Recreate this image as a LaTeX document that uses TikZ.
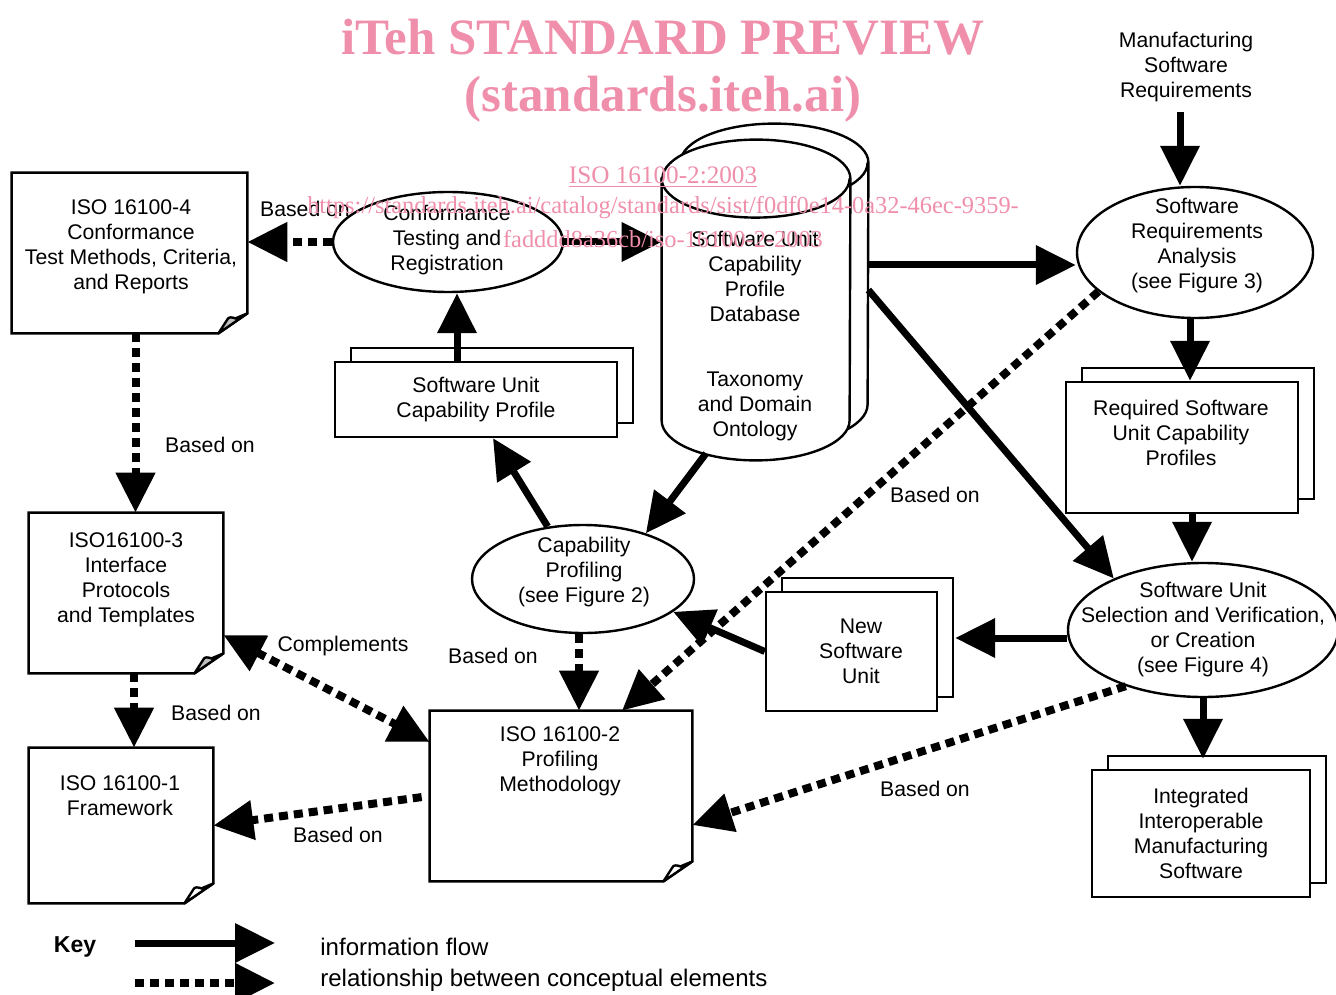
\documentclass[tikz,border=0pt]{standalone}
\usepackage{fontspec}
\setmainfont{Liberation Sans}
\newfontfamily\wmfont{Liberation Serif}
\usepackage{tikz}
\usetikzlibrary{shapes.geometric,shadows,arrows.meta}
\definecolor{wmpink}{RGB}{239,143,171}
\NewDocumentCommand{\docfold}{O{white} m}{%
	\path [draw, docline] (#2.north west) -- (#2.north east) -- ([yshift=10pt]#2.south east) -- ([xshift=-14.5pt]#2.south east) -- (#2.south west) -- cycle;
	\path [draw, docline, line join=round, fill=#1] ([xshift=-14.5pt]#2.south east) -- ([xshift=-10pt,yshift=7pt]#2.south east) to[out=70, in=160] ([xshift=-6pt,yshift=7.5pt]#2.south east) -- ([yshift=10pt]#2.south east) -- cycle;
}
\NewDocumentCommand{\dbdraw}{m}{%
	\path [draw, docline, fill=white] ([yshift=-19.5pt]#1.north west) -- ([yshift=20pt]#1.south west) arc[start angle=180, end angle=360, x radius=47pt, y radius=20pt] -- ([yshift=-19.5pt]#1.north east) arc[start angle=0, end angle=180, x radius=47pt, y radius=19.5pt] -- cycle;
	\path [draw, docline] ([yshift=-19.5pt]#1.north west) arc[start angle=180, end angle=360, x radius=47pt, y radius=19.5pt];
}
\tikzset{
	txt/.style={align=center, font=\fontsize{10.6}{12.5}\selectfont, inner sep=0pt},
	docline/.style={line width=1.2pt},
	docbox/.style={inner sep=0pt},
	dbnode/.style={inner sep=0pt, minimum width=94pt, minimum height=160pt},
	stackbox/.style={txt, draw, line width=1.2pt, fill=white, copy shadow={shadow xshift=8pt, shadow yshift=7pt, draw, fill=white, line width=1.2pt}},
	proc/.style={ellipse, draw, line width=1.2pt, fill=white, inner sep=0pt},
	flow/.style={line width=3.5pt, -{Triangle[length=20pt,width=19pt]}},
	rel/.style={line width=4pt, dash pattern=on 4.5pt off 3pt, -{Triangle[length=20pt,width=19pt]}},
	relboth/.style={rel, {Triangle[length=20pt,width=19pt]}-{Triangle[length=20pt,width=19pt]}},
	keytxt/.style={font=\fontsize{12}{14}\selectfont, inner sep=0pt, anchor=west},
	wm/.style={text=wmpink, align=center, inner sep=0pt},
}
\begin{document}
\begin{tikzpicture}[x=0.5pt, y=-0.5pt]
	\useasboundingbox (0,0) rectangle (1336,994);

	\path (129.5,253) node[docbox, minimum width=117.5pt, minimum height=80pt] (iso4) {};
	\docfold[black!25]{iso4}
	\path (iso4) ++(1.5,-6) node[txt] (iso4t) {ISO 16100-4\\Conformance\\Test Methods, Criteria,\\and Reports};
	\path (126,593) node[docbox, minimum width=97pt, minimum height=80pt] (iso3) {};
	\docfold[black!25]{iso3}
	\path (iso3) ++(0,-13) node[txt] (iso3t) {ISO16100-3\\Interface\\Protocols\\and Templates};
	\path (121,825.5) node[docbox, minimum width=92pt, minimum height=77.5pt] (iso1) {};
	\docfold{iso1}
	\path (iso1) ++(-1,-30) node[txt] (iso1t) {ISO 16100-1\\Framework};
	\path (561,796) node[docbox, minimum width=131pt, minimum height=85pt] (iso2) {};
	\docfold{iso2}
	\path (iso2) ++(-1,-35) node[txt] (iso2t) {ISO 16100-2\\Profiling\\Methodology};

	\path (448,242) node[proc, minimum width=115pt, minimum height=50pt] (conf) {};
	\path (conf) ++(-1,-2) node[txt] (conft) {Conformance\\Testing and\\Registration};
	\path (476,399.5) node[stackbox, minimum width=141pt, minimum height=37.5pt] (sucp) {Software Unit\\Capability Profile};

	\path (774,284) node[dbnode] (dbb) {};
	\path (756,300) node[dbnode] (db) {};
	\dbdraw{dbb}
	\dbdraw{db}
	\path (db) ++(-1,-24) node[txt] (dbt) {Software Unit\\Capability\\Profile\\Database};
	\path (db) ++(-1,106) node[txt] (dbo) {Taxonomy\\and Domain\\Ontology};

	\path (1186,67) node[txt] (man) {Manufacturing\\Software\\Requirements};
	\path (1195,252.5) node[proc, minimum width=118pt, minimum height=65.5pt] (sra) {};
	\path (sra) ++(2,-6.5) node[txt] (srat) {Software\\Requirements\\Analysis\\(see Figure 3)};
	\path (1182,447.5) node[stackbox, minimum width=116pt, minimum height=65.5pt] (req) {};
	\path (req) ++(-1,-14.5) node[txt] (reqt) {Required Software\\Unit Capability\\Profiles};
	\path (1203,630) node[proc, minimum width=135pt, minimum height=67pt] (susv) {};
	\path (susv) node[txt] (susvt) {Software Unit\\Selection and Verification,\\or Creation\\(see Figure 4)};
	\path (1201,833.5) node[stackbox, minimum width=109pt, minimum height=63.5pt] (intg) {Integrated\\Interoperable\\Manufacturing\\Software};
	\path (851.5,651.5) node[stackbox, minimum width=85.5pt, minimum height=59.5pt] (nsu) {};
	\path (nsu) ++(9.5,0) node[txt] (nsut) {New\\Software\\Unit};
	\path (583,579) node[proc, minimum width=111pt, minimum height=54pt] (cp) {};
	\path (cp) ++(1,-7) node[txt] (cpt) {Capability\\Profiling\\(see Figure 2)};

	\path [draw, flow] (conf.east) -- (conf.east -| db.west);
	\path [draw, flow] ([xshift=-9.5pt]sucp.north) -- ([xshift=-9.5pt]sucp.north |- conf.south);
	\path [draw, flow] ([yshift=-6.25pt]sra.west -| dbb.east) -- ([yshift=-6.25pt]sra.west);
	\path [draw, flow, shorten <=5pt] ([xshift=-3pt]man.south) -- ([xshift=-3pt]man.south |- sra.north);
	\path [draw, flow] ([xshift=-2.5pt]sra.south) -- ([xshift=-2.5pt]sra.south |- req.north);
	\path [draw, flow] ([yshift=-3pt]dbb.east) -- (susv.150);
	\path [draw, flow] ([xshift=5pt]req.south) -- ([xshift=5pt]req.south |- susv.north);
	\path [draw, flow, shorten >=5pt] (susv.south) -- (susv.south |- intg.north);
	\path [draw, flow, shorten >=8.5pt] ([yshift=-4pt]susv.west) -- ([yshift=-4pt]susv.west -| nsu.east);
	\path [draw, flow] (nsu.west) -- (cp.-20);
	\path [draw, flow] ([xshift=-25pt,yshift=3.5pt]db.south) -- (cp.36);
	\path [draw, flow] (cp.124) -- ([xshift=8.5pt]sucp.south);

	\path [draw, rel] (conf.west) -- (conf.west -| iso4.east);
	\path [draw, rel] ([xshift=3pt]iso4.south) -- ([xshift=3pt]iso4.south |- iso3.north);
	\path [draw, rel] ([xshift=4pt]iso3.south) -- ([xshift=4pt]iso3.south |- iso1.north);
	\path [draw, relboth] ([yshift=-21pt]iso3.east) -- ([yshift=27pt]iso2.west);
	\path [draw, rel, shorten <=4pt] (iso2.west) -- (iso1.east);
	\path [draw, rel] ([xshift=-2pt]cp.south) -- ([xshift=-2pt]cp.south |- iso2.north);
	\path [draw, rel] (sra.202) -- ([xshift=30.5pt]iso2.north);
	\path [draw, rel] (susv.216) -- ([yshift=-14.5pt]iso2.east);

	\path (305,209) node[txt] (bo1) {Based on};
	\path (210,445) node[txt] (bo2) {Based on};
	\path (216,713) node[txt] (bo3) {Based on};
	\path (343,646) node[txt] (cmp) {Complements};
	\path (338,835) node[txt] (bo4) {Based on};
	\path (493,656) node[txt] (bo5) {Based on};
	\path (935,495) node[txt] (bo6) {Based on};
	\path (925,789) node[txt] (bo7) {Based on};

	\path (75,947) node[font=\bfseries\fontsize{11.5}{13}\selectfont, inner sep=0pt] (key) {Key};
	\coordinate (k1a) at (135,943);
	\coordinate (k1b) at (275,943);
	\coordinate (k2a) at (135,983);
	\coordinate (k2b) at (275,983);
	\path [draw, flow] (k1a) -- (k1b);
	\path [draw, rel] (k2a) -- (k2b);
	\path (320,947) node[keytxt] (k1t) {information flow};
	\path (320,980) node[keytxt] (k2t) {relationship between conceptual elements};

	\path (663,37) node[wm, font=\wmfont\bfseries\fontsize{25.5}{30}\selectfont] (wm1) {iTeh STANDARD PREVIEW};
	\path (663,99) node[wm, font=\wmfont\bfseries\fontsize{25.5}{30}\selectfont] (wm2) {(standards.iteh.ai)};
	\path (663,177) node[wm, font=\wmfont\fontsize{12.6}{15}\selectfont] (wm3) {\underline{ISO 16100-2:2003}};
	\path (663,222) node[wm, font=\wmfont\fontsize{12.2}{17}\selectfont] (wm4) {https://standards.iteh.ai/catalog/standards/sist/f0df0e14-0a32-46ec-9359-\\fadddd8a36cb/iso-16100-2-2003};
	\end{tikzpicture}
\end{document}
